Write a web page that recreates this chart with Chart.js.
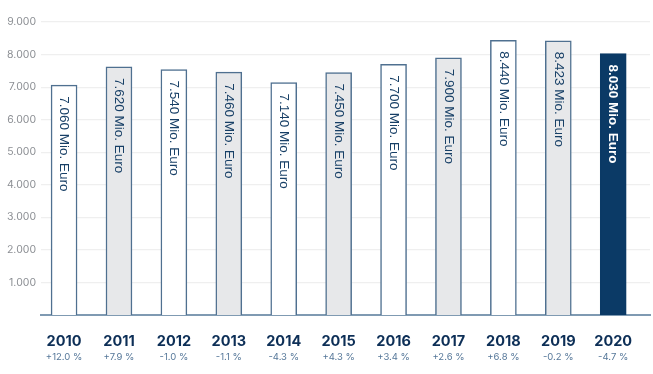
<!DOCTYPE html>
<html><head><meta charset="utf-8">
<script src="https://cdn.jsdelivr.net/npm/chart.js@4/dist/chart.umd.min.js"></script>
<style>html,body{margin:0;padding:0;background:#fff}#w{width:653px;height:374px}</style>
</head><body><div id="w"><canvas id="c"></canvas></div>
<script>
const years = ['2010','2011','2012','2013','2014','2015','2016','2017','2018','2019','2020'];
const values = [7060,7620,7540,7460,7140,7450,7700,7900,8440,8423,8030];
const valueLabels = ['7.060 Mio. Euro','7.620 Mio. Euro','7.540 Mio. Euro','7.460 Mio. Euro','7.140 Mio. Euro','7.450 Mio. Euro','7.700 Mio. Euro','7.900 Mio. Euro','8.440 Mio. Euro','8.423 Mio. Euro','8.030 Mio. Euro'];
const changes = ['+12.0 %','+7.9 %','-1.0 %','-1.1 %','-4.3 %','+4.3 %','+3.4 %','+2.6 %','+6.8 %','-0.2 %','-4.7 %'];
const yTicks = [1000,2000,3000,4000,5000,6000,7000,8000,9000];

const WHITE='#ffffff', GREY='#e7e8ea', NAVY='#0b3a66';
const fills = values.map((v,i)=> i===values.length-1 ? NAVY : (i%2===0 ? WHITE : GREY));

const labelPlugin = {
  id:'labels',
  afterDatasetsDraw(chart){
    const ctx = chart.ctx;
    const meta = chart.getDatasetMeta(0);
    const xs = chart.scales.x;
    meta.data.forEach((bar,i)=>{
      ctx.save();
      ctx.translate(bar.x, bar.y + 11);
      ctx.rotate(Math.PI/2);
      const last = i===values.length-1;
      ctx.font = (last?'bold ':'') + '13.5px "Liberation Sans", Arial, sans-serif';
      ctx.fillStyle = last ? '#ffffff' : '#173f66';
      ctx.textAlign='left';
      ctx.textBaseline='middle';
      ctx.fillText(valueLabels[i], 0, 0);
      ctx.restore();
    });
    years.forEach((yr,i)=>{
      const x = xs.getPixelForValue(i);
      ctx.save();
      ctx.textAlign='center';
      ctx.textBaseline='middle';
      ctx.font='bold 14.5px Inter, "Open Sans", sans-serif';
      ctx.fillStyle='#0d2f57';
      ctx.fillText(yr, x, 342);
      ctx.font='9.5px Inter, "Open Sans", sans-serif';
      ctx.fillStyle='#557799';
      ctx.fillText(changes[i], x, 357);
      ctx.restore();
    });
  }
};

new Chart(document.getElementById('c'), {
  type:'bar',
  data:{
    datasets:[{
      data: values.map((v,i)=>({x:i,y:v})),
      backgroundColor: fills,
      borderColor: values.map((v,i)=> i===values.length-1 ? NAVY : '#4f7090'),
      borderWidth: 1.5,
      barThickness: 26
    }]
  },
  options:{
    responsive:true, maintainAspectRatio:false, animation:false,
    devicePixelRatio:1,
    layout:{padding:{top:22,right:3,left:0,bottom:0}},
    plugins:{legend:{display:false},tooltip:{enabled:false}},
    scales:{
      x:{
        type:'linear', min:-0.42, max:10.67, offset:false, bounds:'ticks',
        ticks:{display:false},
        grid:{display:false, drawTicks:false},
        border:{display:true, color:'#7f9ab2', width:2},
        afterFit(s){ s.height = 59; }
      },
      y:{
        min:0, max:9000,
        afterBuildTicks(s){ s.ticks = yTicks.map(v=>({value:v})); },
        ticks:{
          padding:5, color:'#8c8f94',
          font:{size:10.5, family:'Inter, "Open Sans", sans-serif'},
          callback:(v)=> v.toLocaleString('de-DE')
        },
        grid:{color:'#efefef', lineWidth:1.2, drawTicks:false},
        border:{display:false},
        afterFit(s){ s.width = 41; }
      }
    }
  },
  plugins:[labelPlugin]
});
</script></body></html>
